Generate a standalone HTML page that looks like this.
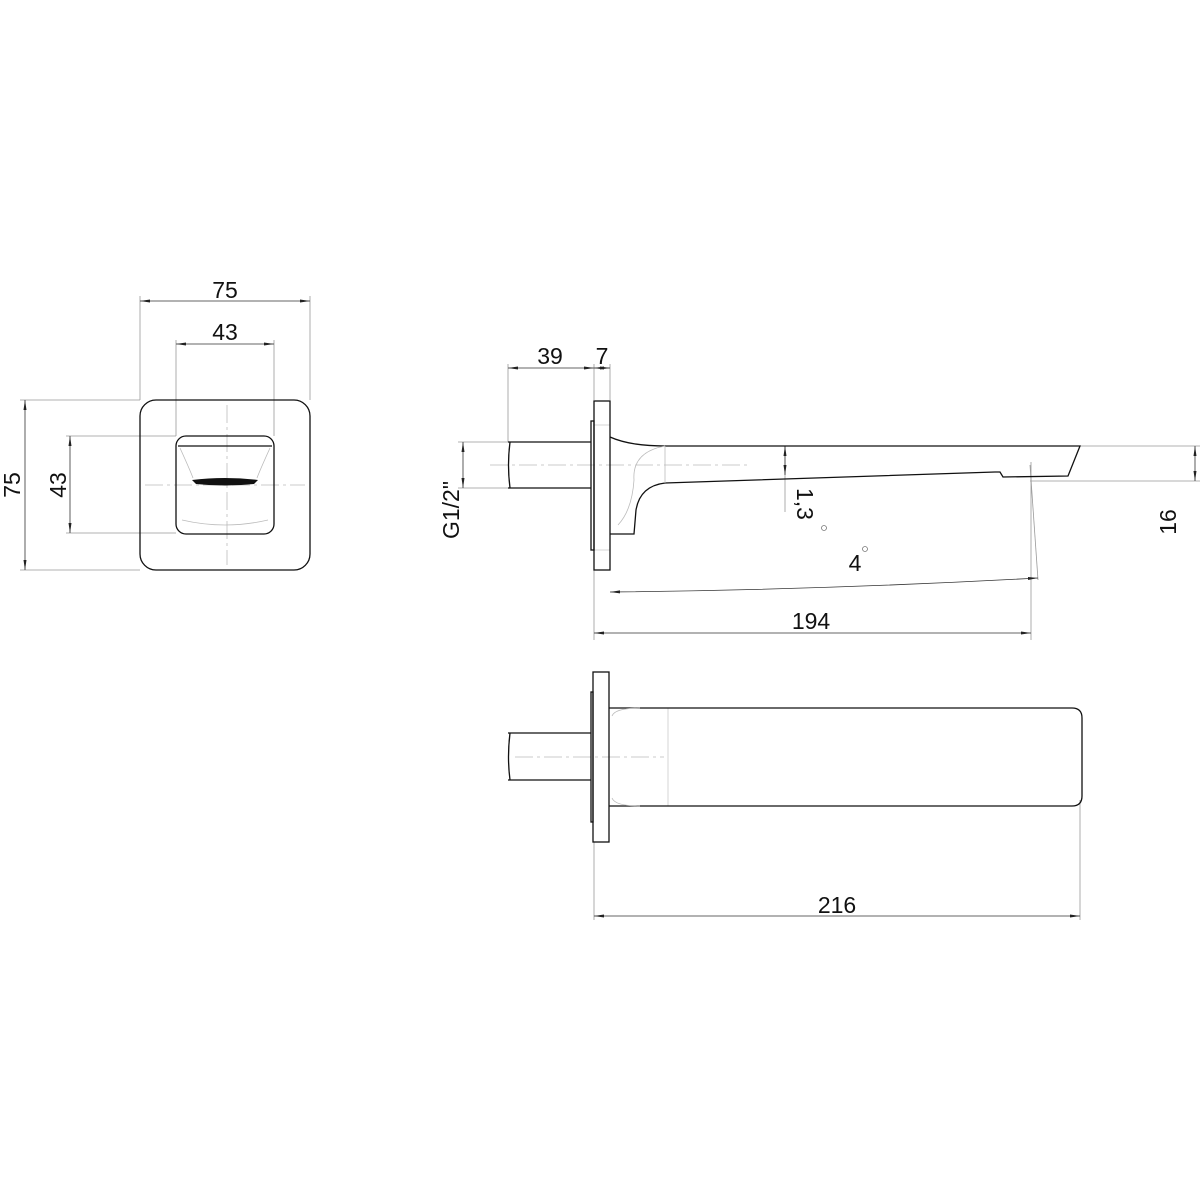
<!DOCTYPE html>
<html><head><meta charset="utf-8"><style>body{margin:0;background:#fff}svg{display:block}text{font-family:"Liberation Sans",sans-serif;fill:#111}</style></head><body>
<svg width="1200" height="1200" viewBox="0 0 1200 1200" xmlns="http://www.w3.org/2000/svg">
<defs><marker id="a" viewBox="0 0 10 6" refX="10" refY="3" markerWidth="10" markerHeight="6" orient="auto-start-reverse" markerUnits="userSpaceOnUse"><path d="M0,1.5L10,3L0,4.5z" fill="#222"/></marker></defs>
<g fill="none" stroke="#999" stroke-width="0.8">
<line x1="140" y1="296" x2="140" y2="400"/><line x1="310" y1="296" x2="310" y2="400"/>
<line x1="176" y1="340" x2="176" y2="436"/><line x1="274" y1="340" x2="274" y2="436"/>
<line x1="20" y1="400" x2="140" y2="400"/><line x1="20" y1="570" x2="140" y2="570"/>
<line x1="66" y1="436" x2="176" y2="436"/><line x1="66" y1="533" x2="176" y2="533"/>
<line x1="227" y1="405" x2="227" y2="565" stroke-dasharray="18,4,3,4" stroke="#bbb"/>
<line x1="145" y1="485" x2="305" y2="485" stroke-dasharray="18,4,3,4" stroke="#bbb"/>
<line x1="508" y1="364" x2="508" y2="442"/><line x1="594" y1="364" x2="594" y2="400"/><line x1="610" y1="364" x2="610" y2="400"/>
<line x1="458" y1="442" x2="508" y2="442"/><line x1="458" y1="488" x2="508" y2="488"/>
<line x1="594" y1="570" x2="594" y2="640"/><line x1="1031" y1="462" x2="1031" y2="640"/>
<line x1="1080" y1="446" x2="1200" y2="446"/><line x1="1030" y1="481" x2="1200" y2="481"/>
<line x1="785" y1="446" x2="785" y2="512"/>
<line x1="1030" y1="465" x2="1038" y2="580"/>
<line x1="490" y1="465" x2="750" y2="465" stroke-dasharray="18,4,3,4" stroke="#bbb"/>
<line x1="610" y1="425" x2="594" y2="425" stroke="#ccc"/><line x1="594" y1="550" x2="610" y2="550" stroke="#ccc"/>
<line x1="594" y1="842" x2="594" y2="920"/><line x1="1080" y1="800" x2="1080" y2="920"/>
<line x1="515" y1="757" x2="664" y2="757" stroke-dasharray="18,4,3,4" stroke="#bbb"/>
<line x1="668" y1="708" x2="668" y2="806" stroke="#ccc"/>
</g>
<g stroke="#333" stroke-width="0.8" fill="none" marker-start="url(#a)" marker-end="url(#a)">
<line x1="140" y1="301" x2="310" y2="301"/>
<line x1="176" y1="344" x2="274" y2="344"/>
<line x1="25" y1="400" x2="25" y2="570"/>
<line x1="70" y1="436" x2="70" y2="533"/>
<line x1="508" y1="368" x2="594" y2="368"/>
<line x1="594" y1="368" x2="610" y2="368"/>
<line x1="463" y1="442" x2="463" y2="488"/>
<line x1="594" y1="633" x2="1031" y2="633"/>
<line x1="1195" y1="446" x2="1195" y2="481"/>
<line x1="785" y1="446" x2="785" y2="475"/>
<path d="M610,592 Q820,590 1038,578"/>
<line x1="594" y1="916" x2="1080" y2="916"/>
</g>
<g fill="none" stroke="#111" stroke-width="1.3">
<rect x="140" y="400" width="170" height="170" rx="16"/>
<rect x="176" y="436" width="98" height="98" rx="10"/>
<line x1="178" y1="446" x2="272" y2="446"/>
<rect x="594" y="401" width="16" height="169"/>
<rect x="591" y="421" width="3" height="129"/>
<path d="M508,442 H591 M508,488 H591 M510,442 Q507,465 510,488"/>
<path d="M610,437 Q630,446 665,446 H1080 L1068,476 L1003,477 L1000,472 Q999,472 995,472 L665,483 Q640,486 636,510 L634,534 H610"/>
<rect x="593" y="672" width="16" height="170"/>
<rect x="591" y="692" width="2" height="130"/>
<path d="M508,733 H591 M508,780 H591 M510,733 Q507,757 510,780"/>
<path d="M609,708 H1072 Q1082,708 1082,718 V796 Q1082,806 1072,806 H609"/>
</g>
<g fill="none" stroke="#bbb" stroke-width="0.8">
<path d="M180,448 Q190,470 193,478 M270,448 Q260,470 257,478 M182,520 Q225,530 268,520"/>
<path d="M665,446 Q632,452 634,480 Q632,510 618,525 M665,446 V483"/>
<path d="M612,716 Q615,708 640,708 M612,798 Q615,806 640,806"/>
</g>
<path d="M192,480 Q225,476 258,480 L254,484 Q225,487 196,484 Z" fill="#111"/>
<g font-size="23" text-anchor="middle">
<text x="225" y="298">75</text>
<text x="225" y="340">43</text>
<text transform="translate(20,485) rotate(-90)">75</text>
<text transform="translate(66,485) rotate(-90)">43</text>
<text x="550" y="364">39</text>
<text x="602" y="364">7</text>
<text transform="translate(459,510) rotate(-90)">G1/2"</text>
<text x="811" y="629">194</text>
<text transform="translate(1176,522) rotate(-90)">16</text>
<text transform="translate(797,488) rotate(90)" text-anchor="start">1,3</text>
<text x="855" y="571">4</text>
<text x="837" y="913">216</text>
</g>
<circle cx="824" cy="528" r="2.5" fill="none" stroke="#777" stroke-width="0.8"/>
<circle cx="865" cy="549" r="2.5" fill="none" stroke="#777" stroke-width="0.8"/>
</svg>
</body></html>
